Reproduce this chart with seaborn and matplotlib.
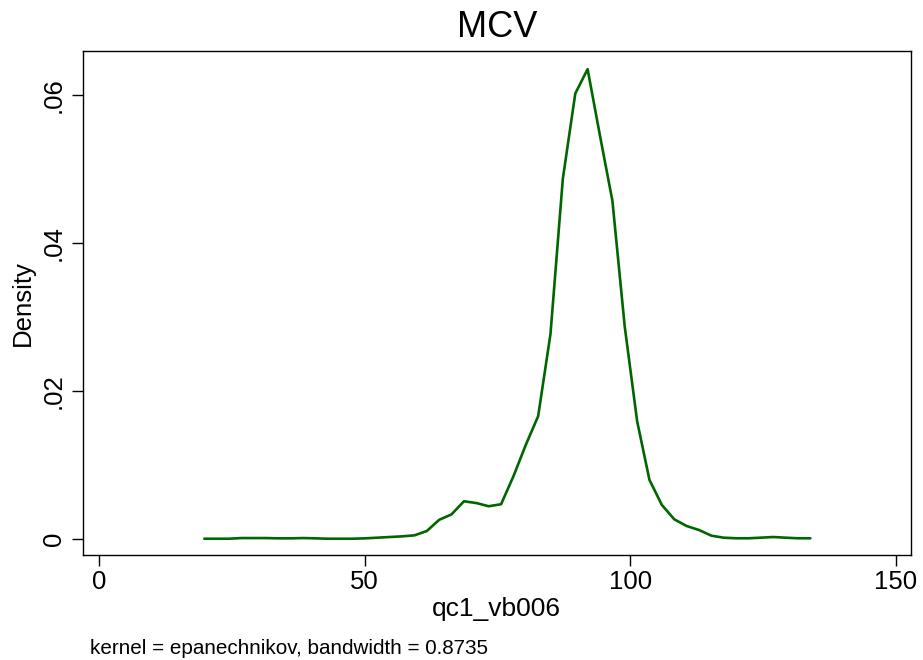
import numpy as np
import pandas as pd
import matplotlib
matplotlib.use("Agg")
import matplotlib.pyplot as plt
import seaborn as sns

# Estimated kernel density grid (qc1_vb006) and density values
grid_x = [19.80, 22.14, 24.45, 26.79, 29.09, 31.44, 33.78, 36.09, 38.43, 40.77,
          43.07, 45.41, 47.72, 50.06, 52.40, 54.70, 57.04, 59.38, 61.69, 64.03,
          66.34, 68.68, 71.02, 73.33, 75.67, 78.01, 80.31, 82.65, 84.97, 87.30,
          89.64, 91.96, 94.29, 96.63, 98.95, 101.29, 103.60, 105.94, 108.28, 110.59,
          112.93, 115.27, 117.57, 119.91, 122.26, 124.56, 126.90, 129.21, 131.55, 133.89]
density = [0.00004, 0.00004, 0.00004, 0.00013, 0.00013, 0.00013, 0.00009, 0.00009, 0.00013, 0.00009,
           0.00004, 0.00004, 0.00004, 0.00009, 0.00018, 0.00027, 0.00036, 0.00050, 0.00108, 0.00260,
           0.00333, 0.00510, 0.00486, 0.00443, 0.00470, 0.00850, 0.01270, 0.01660, 0.02770, 0.04870,
           0.06020, 0.06350, 0.05450, 0.04570, 0.02870, 0.01590, 0.00800, 0.00460, 0.00266, 0.00176,
           0.00122, 0.00045, 0.00018, 0.00010, 0.00010, 0.00018, 0.00027, 0.00018, 0.00010, 0.00010]

x_ticks = [0, 50, 100, 150]
x_ticklabels = ["0", "50", "100", "150"]
y_ticks = [0, 0.02, 0.04, 0.06]
y_ticklabels = ["0", ".02", ".04", ".06"]

title_text = "MCV"
x_label = "qc1_vb006"
y_label = "Density"
note_text = "kernel = epanechnikov, bandwidth = 0.8735"

sns.set_style("white")
plt.rcParams['font.family'] = ['Liberation Sans', 'DejaVu Sans']
plt.rcParams['text.color'] = 'black'
plt.rcParams['axes.labelcolor'] = 'black'
plt.rcParams['xtick.color'] = 'black'
plt.rcParams['ytick.color'] = 'black'

df = pd.DataFrame({"x": grid_x, "density": density})

fig = plt.figure(figsize=(9.23, 6.60), dpi=100)
ax = fig.add_axes([82.7 / 923, (660 - 555) / 660, (911 - 82.7) / 923, (555 - 51) / 660])

sns.lineplot(data=df, x="x", y="density", ax=ax, color="#006600", linewidth=1.9,
             sort=False, estimator=None)

ax.set_xlim(-3.09, 152.84)
ax.set_ylim(-0.00216, 0.06595)

ax.set_xticks(x_ticks)
ax.set_xticklabels(x_ticklabels, fontsize=18.5, color="black")
ax.set_yticks(y_ticks)
ax.set_yticklabels(y_ticklabels, fontsize=18.5, rotation=90, va="center", color="black")

ax.tick_params(axis="both", direction="out", length=8, width=1.0, color="black",
               bottom=True, left=True, top=False, right=False)
ax.tick_params(axis="x", pad=3)
ax.tick_params(axis="y", pad=4)

for s in ax.spines.values():
    s.set_visible(True)
    s.set_color("black")
    s.set_linewidth(1.0)

ax.set_xlabel(x_label, fontsize=19, labelpad=2, color="black")
ax.set_ylabel(y_label, fontsize=18.5, labelpad=5, color="black")
ax.set_title(title_text, fontsize=26, pad=10, color="black")
ax.grid(False)

fig.text(90 / 923, 1 - 648 / 660, note_text, fontsize=14.9, ha="left", va="center", color="black")

fig.savefig("out.png", dpi=100, facecolor="white")
